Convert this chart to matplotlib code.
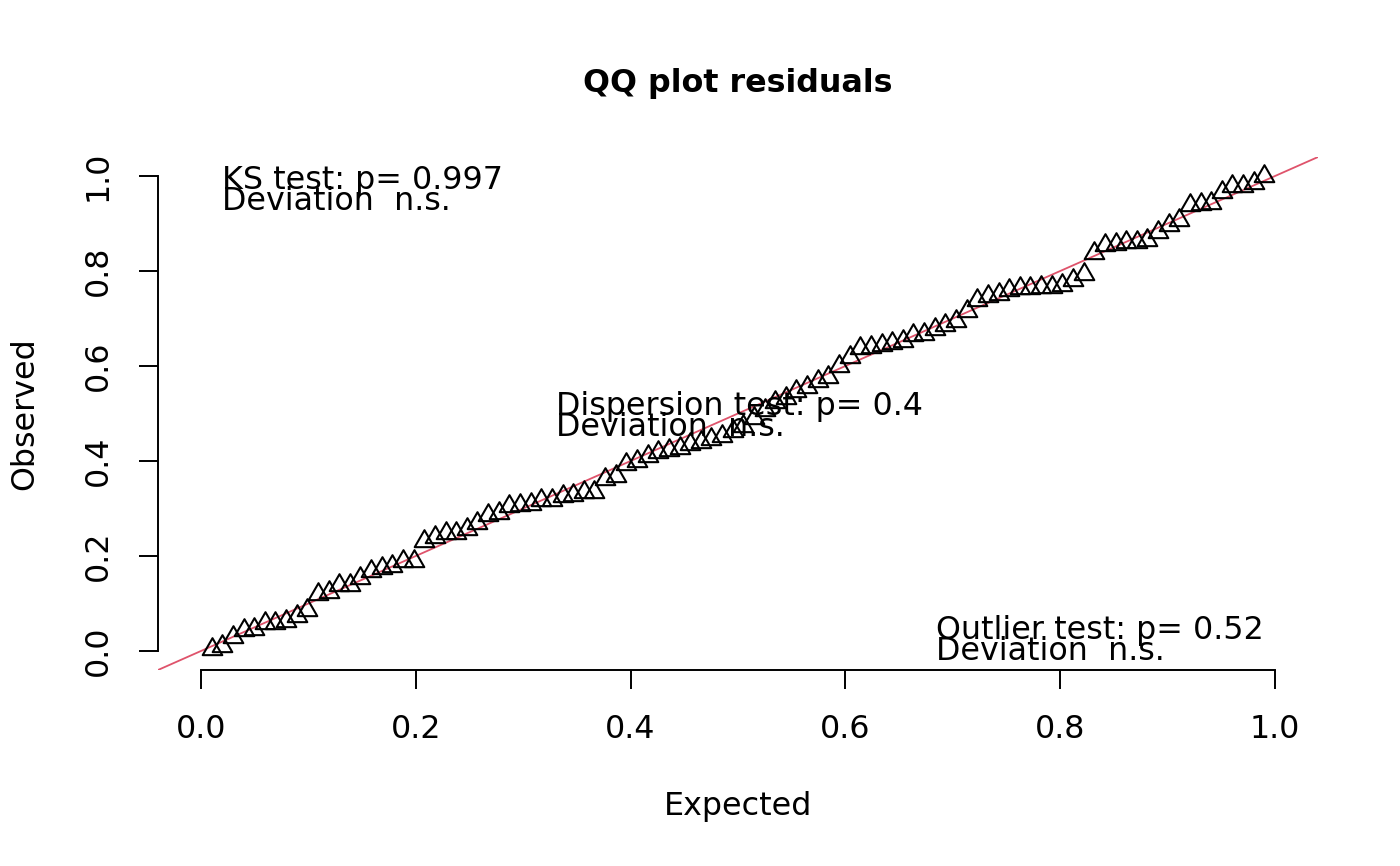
import numpy as np
import matplotlib

matplotlib.use("Agg")
import matplotlib.pyplot as plt
from matplotlib.path import Path

# Scaled residuals, sorted
observed = [
    0.004, 0.010, 0.029, 0.044, 0.047, 0.058, 0.059, 0.064, 0.074, 0.086,
    0.120, 0.124, 0.138, 0.139, 0.154, 0.169, 0.175, 0.180, 0.189, 0.190,
    0.232, 0.240, 0.248, 0.249, 0.257, 0.269, 0.286, 0.290, 0.305, 0.308,
    0.309, 0.317, 0.318, 0.327, 0.328, 0.334, 0.335, 0.362, 0.368, 0.394,
    0.399, 0.410, 0.420, 0.424, 0.427, 0.435, 0.440, 0.447, 0.452, 0.463,
    0.474, 0.490, 0.507, 0.524, 0.533, 0.547, 0.555, 0.568, 0.577, 0.599,
    0.618, 0.638, 0.641, 0.645, 0.648, 0.653, 0.666, 0.667, 0.677, 0.686,
    0.694, 0.715, 0.740, 0.747, 0.751, 0.760, 0.764, 0.765, 0.766, 0.767,
    0.771, 0.782, 0.794, 0.838, 0.854, 0.856, 0.861, 0.862, 0.866, 0.882,
    0.896, 0.908, 0.940, 0.941, 0.943, 0.966, 0.978, 0.980, 0.985, 0.999,
]
ticks = [0.0, 0.2, 0.4, 0.6, 0.8, 1.0]
tick_labels = ["0.0", "0.2", "0.4", "0.6", "0.8", "1.0"]

ks_text = ["KS test: p= 0.997", "Deviation  n.s."]
disp_text = ["Dispersion test: p= 0.4", "Deviation  n.s."]
outl_text = ["Outlier test: p= 0.52", "Deviation  n.s."]

# uniform plotting positions rank/(n+1), as in gap::qqunif
n = len(observed)
expected = np.arange(1, n + 1) / (n + 1)

fs = 22.9
plt.rcParams["font.family"] = "DejaVu Sans"

fig = plt.figure(figsize=(14, 8.66), dpi=100)
ax = fig.add_axes([158 / 1400, 1 - 670 / 866, 1160 / 1400, 513 / 866])
ax.set_xlim(-0.04, 1.04)
ax.set_ylim(-0.04, 1.04)

# R style open triangle (centroid at the point)
tri = Path([(0, 1), (-0.866, -0.5), (0.866, -0.5), (0, 1)],
           [Path.MOVETO, Path.LINETO, Path.LINETO, Path.CLOSEPOLY])

ax.axline((0, 0), slope=1, color="#DF536B", linewidth=1.3, zorder=1)
ax.plot(expected, observed, linestyle="none", marker=tri, markersize=16.3,
        markerfacecolor="none", markeredgecolor="black",
        markeredgewidth=1.5, zorder=2)

for side in ["top", "right"]:
    ax.spines[side].set_visible(False)
ax.spines["left"].set_bounds(0, 1)
ax.spines["bottom"].set_bounds(0, 1)
ax.spines["left"].set_linewidth(1.4)
ax.spines["bottom"].set_linewidth(1.4)

ax.set_xticks(ticks, tick_labels)
ax.set_yticks(ticks, tick_labels)
ax.tick_params(direction="out", length=13.7, width=1.4, labelsize=fs, pad=18)
for lab in ax.get_yticklabels():
    lab.set_rotation(90)
    lab.set_verticalalignment("center")

ax.set_xlabel("Expected", fontsize=fs, labelpad=33)
ax.set_ylabel("Observed", fontsize=fs, labelpad=31)
ax.set_title("QQ plot residuals", fontsize=fs, fontweight="bold", pad=47)

for (x, y0, y1), lines in zip(
    [(0.0195, 0.972, 0.928), (0.331, 0.497, 0.453), (0.684, 0.025, -0.019)],
    [ks_text, disp_text, outl_text],
):
    ax.text(x, y0, lines[0], fontsize=fs, ha="left", va="baseline", zorder=3)
    ax.text(x, y1, lines[1], fontsize=fs, ha="left", va="baseline", zorder=3)

fig.savefig("out.png", dpi=100)
